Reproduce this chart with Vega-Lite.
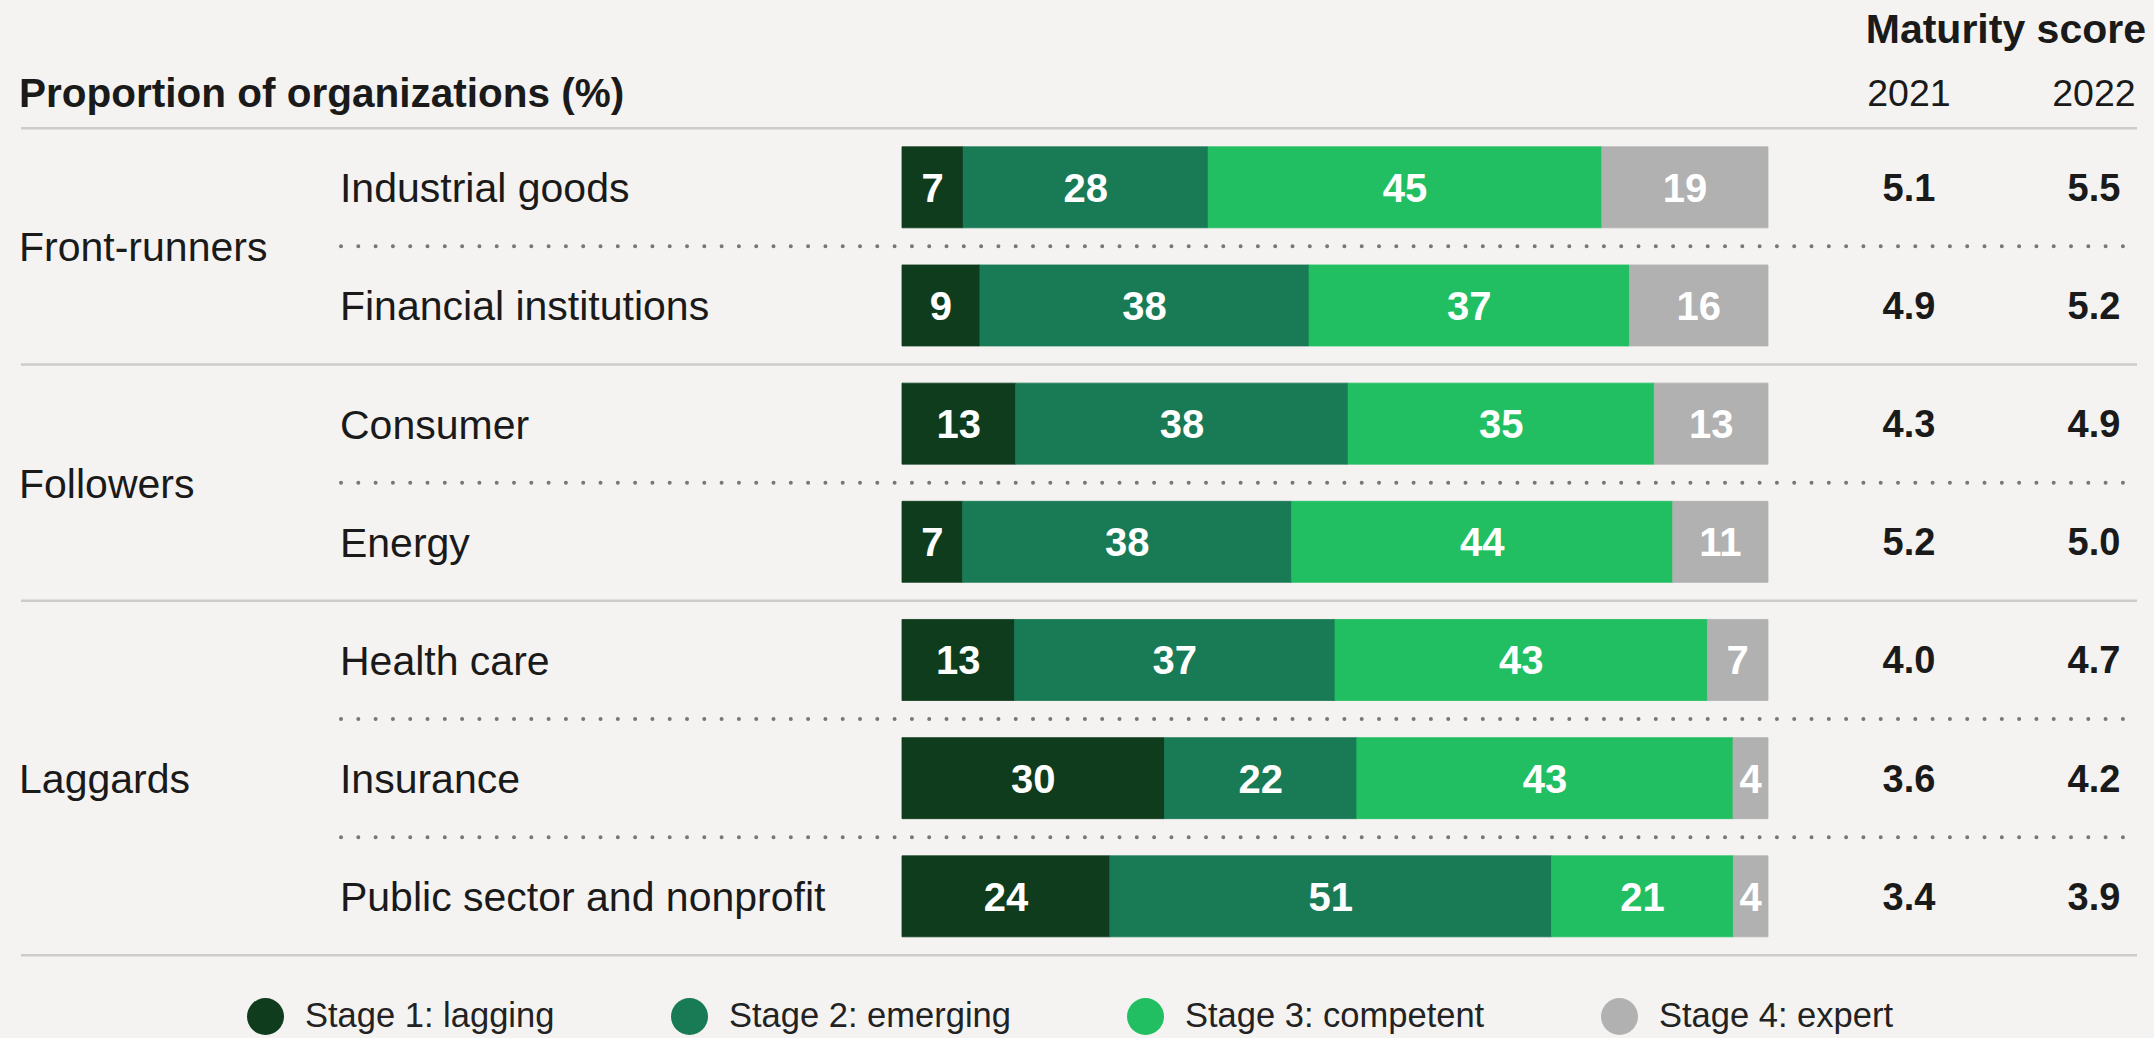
{
  "$schema": "https://vega.github.io/schema/vega-lite/v6.json",
  "width": 2154,
  "height": 1038,
  "autosize": {"type": "none"},
  "padding": 0,
  "background": "#f4f3f1",
  "config": {"view": {"stroke": null}, "font": "Liberation Sans"},
  "datasets": {
    "rows": [
      {"industry": "Industrial goods", "group": "Front-runners", "row": 0, "s2021": 5.1, "s2022": 5.5, "below": "dotted"},
      {"industry": "Financial institutions", "group": "Front-runners", "row": 1, "s2021": 4.9, "s2022": 5.2, "below": "solid"},
      {"industry": "Consumer", "group": "Followers", "row": 2, "s2021": 4.3, "s2022": 4.9, "below": "dotted"},
      {"industry": "Energy", "group": "Followers", "row": 3, "s2021": 5.2, "s2022": 5.0, "below": "solid"},
      {"industry": "Health care", "group": "Laggards", "row": 4, "s2021": 4.0, "s2022": 4.7, "below": "dotted"},
      {"industry": "Insurance", "group": "Laggards", "row": 5, "s2021": 3.6, "s2022": 4.2, "below": "dotted"},
      {"industry": "Public sector and nonprofit", "group": "Laggards", "row": 6, "s2021": 3.4, "s2022": 3.9, "below": "solid"}
    ],
    "bars": [
      {"industry": "Industrial goods", "row": 0, "stage": "Stage 1: lagging", "value": 7},
      {"industry": "Industrial goods", "row": 0, "stage": "Stage 2: emerging", "value": 28},
      {"industry": "Industrial goods", "row": 0, "stage": "Stage 3: competent", "value": 45},
      {"industry": "Industrial goods", "row": 0, "stage": "Stage 4: expert", "value": 19},
      {"industry": "Financial institutions", "row": 1, "stage": "Stage 1: lagging", "value": 9},
      {"industry": "Financial institutions", "row": 1, "stage": "Stage 2: emerging", "value": 38},
      {"industry": "Financial institutions", "row": 1, "stage": "Stage 3: competent", "value": 37},
      {"industry": "Financial institutions", "row": 1, "stage": "Stage 4: expert", "value": 16},
      {"industry": "Consumer", "row": 2, "stage": "Stage 1: lagging", "value": 13},
      {"industry": "Consumer", "row": 2, "stage": "Stage 2: emerging", "value": 38},
      {"industry": "Consumer", "row": 2, "stage": "Stage 3: competent", "value": 35},
      {"industry": "Consumer", "row": 2, "stage": "Stage 4: expert", "value": 13},
      {"industry": "Energy", "row": 3, "stage": "Stage 1: lagging", "value": 7},
      {"industry": "Energy", "row": 3, "stage": "Stage 2: emerging", "value": 38},
      {"industry": "Energy", "row": 3, "stage": "Stage 3: competent", "value": 44},
      {"industry": "Energy", "row": 3, "stage": "Stage 4: expert", "value": 11},
      {"industry": "Health care", "row": 4, "stage": "Stage 1: lagging", "value": 13},
      {"industry": "Health care", "row": 4, "stage": "Stage 2: emerging", "value": 37},
      {"industry": "Health care", "row": 4, "stage": "Stage 3: competent", "value": 43},
      {"industry": "Health care", "row": 4, "stage": "Stage 4: expert", "value": 7},
      {"industry": "Insurance", "row": 5, "stage": "Stage 1: lagging", "value": 30},
      {"industry": "Insurance", "row": 5, "stage": "Stage 2: emerging", "value": 22},
      {"industry": "Insurance", "row": 5, "stage": "Stage 3: competent", "value": 43},
      {"industry": "Insurance", "row": 5, "stage": "Stage 4: expert", "value": 4},
      {"industry": "Public sector and nonprofit", "row": 6, "stage": "Stage 1: lagging", "value": 24},
      {"industry": "Public sector and nonprofit", "row": 6, "stage": "Stage 2: emerging", "value": 51},
      {"industry": "Public sector and nonprofit", "row": 6, "stage": "Stage 3: competent", "value": 21},
      {"industry": "Public sector and nonprofit", "row": 6, "stage": "Stage 4: expert", "value": 4}
    ]
  },
  "layer": [
    {
      "data": {"name": "bars"},
      "mark": {"type": "bar", "orient": "horizontal", "size": 81, "strokeWidth": 0.8},
      "encoding": {
        "x": {"field": "value", "type": "quantitative", "stack": "normalize", "axis": null,
              "scale": {"domain": [-1.04157, 1.44573], "nice": false, "zero": false, "padding": 0}},
        "y": {"field": "row", "type": "quantitative", "axis": null,
              "scale": {"domain": [-1.585, 7.199], "reverse": true, "nice": false, "zero": false, "padding": 0}},
        "order": {"field": "stage", "type": "ordinal", "sort": "ascending"},
        "stroke": {"field": "stage", "type": "nominal", "legend": null,
          "scale": {"domain": ["Stage 1: lagging", "Stage 2: emerging", "Stage 3: competent", "Stage 4: expert"],
                    "range": ["#0e3c1d", "#197a56", "#21bf61", "#b1b1b1"]}},
        "color": {"field": "stage", "type": "nominal",
          "scale": {"domain": ["Stage 1: lagging", "Stage 2: emerging", "Stage 3: competent", "Stage 4: expert"],
                    "range": ["#0e3c1d", "#197a56", "#21bf61", "#b1b1b1"]},
          "legend": {"title": null, "orient": "none", "legendX": 247, "legendY": 998, "direction": "horizontal",
                     "symbolType": "circle", "symbolSize": 1369, "symbolStrokeWidth": 0, "symbolOpacity": 1,
                     "labelFontSize": 34.5, "labelFont": "Liberation Sans", "labelColor": "#222222", "labelLimit": 0,
                     "columnPadding": 116, "labelOffset": 21, "padding": 0, "rowPadding": 0}}
      }
    },
    {
      "data": {"name": "bars"},
      "mark": {"type": "text", "color": "#ffffff", "fontWeight": "bold", "fontSize": 40, "align": "center", "baseline": "alphabetic", "dy": 14.5},
      "encoding": {
        "x": {"field": "value", "type": "quantitative", "stack": "normalize", "bandPosition": 0.5},
        "y": {"field": "row", "type": "quantitative"},
        "detail": {"field": "stage", "type": "nominal"},
        "order": {"field": "stage", "type": "ordinal", "sort": "ascending"},
        "text": {"field": "value", "type": "quantitative"}
      }
    },
    {
      "data": {"name": "rows"},
      "transform": [{"filter": "datum.below === 'solid'"}],
      "mark": {"type": "rule", "color": "#cccccc", "strokeWidth": 2.5, "yOffset": 59},
      "encoding": {
        "y": {"field": "row", "type": "quantitative"},
        "x": {"datum": -1.0173},
        "x2": {"datum": 1.4261}
      }
    },
    {
      "data": {"name": "rows"},
      "transform": [{"filter": "datum.row === 0"}],
      "mark": {"type": "rule", "color": "#cccccc", "strokeWidth": 2.5, "yOffset": -59},
      "encoding": {
        "y": {"field": "row", "type": "quantitative"},
        "x": {"datum": -1.0173},
        "x2": {"datum": 1.4261}
      }
    },
    {
      "data": {"name": "rows"},
      "transform": [{"filter": "datum.below === 'dotted'"}],
      "mark": {"type": "rule", "color": "#777777", "strokeWidth": 4, "strokeCap": "round", "strokeDash": [0, 17.3], "yOffset": 59},
      "encoding": {
        "y": {"field": "row", "type": "quantitative"},
        "x": {"datum": -0.6478},
        "x2": {"datum": 1.4261}
      }
    },
    {
      "data": {"name": "rows"},
      "mark": {"type": "text", "align": "left", "baseline": "alphabetic", "dy": 15, "fontSize": 41, "color": "#1a1a1a"},
      "encoding": {
        "y": {"field": "row", "type": "quantitative"},
        "x": {"datum": -0.649},
        "text": {"field": "industry", "type": "nominal"}
      }
    },
    {
      "data": {"name": "rows"},
      "mark": {"type": "text", "align": "left", "baseline": "alphabetic", "dy": 15, "fontSize": 41, "color": "#1a1a1a"},
      "encoding": {
        "y": {"field": "row", "type": "quantitative", "aggregate": "mean"},
        "x": {"datum": -1.0196},
        "text": {"field": "group", "type": "nominal"}
      }
    },
    {
      "data": {"name": "rows"},
      "mark": {"type": "text", "align": "center", "baseline": "alphabetic", "dy": 13.5, "fontSize": 38, "fontWeight": "bold", "color": "#1a1a1a"},
      "encoding": {
        "y": {"field": "row", "type": "quantitative"},
        "x": {"datum": 1.1628},
        "text": {"field": "s2021", "type": "quantitative", "format": ".1f"}
      }
    },
    {
      "data": {"name": "rows"},
      "mark": {"type": "text", "align": "center", "baseline": "alphabetic", "dy": 13.5, "fontSize": 38, "fontWeight": "bold", "color": "#1a1a1a"},
      "encoding": {
        "y": {"field": "row", "type": "quantitative"},
        "x": {"datum": 1.3764},
        "text": {"field": "s2022", "type": "quantitative", "format": ".1f"}
      }
    },
    {
      "data": {"values": [{"label": "Proportion of organizations (%)"}]},
      "mark": {"type": "text", "align": "left", "baseline": "alphabetic", "dy": -21, "fontSize": 40.5, "fontWeight": "bold", "color": "#1a1a1a"},
      "encoding": {
        "y": {"datum": -0.5},
        "x": {"datum": -1.0196},
        "text": {"field": "label", "type": "nominal"}
      }
    },
    {
      "data": {"values": [{"label": "2021"}]},
      "mark": {"type": "text", "align": "center", "baseline": "alphabetic", "dy": -22, "fontSize": 37.5, "color": "#1a1a1a"},
      "encoding": {
        "y": {"datum": -0.5},
        "x": {"datum": 1.1628},
        "text": {"field": "label", "type": "nominal"}
      }
    },
    {
      "data": {"values": [{"label": "2022"}]},
      "mark": {"type": "text", "align": "center", "baseline": "alphabetic", "dy": -22, "fontSize": 37.5, "color": "#1a1a1a"},
      "encoding": {
        "y": {"datum": -0.5},
        "x": {"datum": 1.3764},
        "text": {"field": "label", "type": "nominal"}
      }
    },
    {
      "data": {"values": [{"label": "Maturity score"}]},
      "mark": {"type": "text", "align": "right", "baseline": "alphabetic", "dy": -85, "fontSize": 41, "fontWeight": "bold", "color": "#1a1a1a"},
      "encoding": {
        "y": {"datum": -0.5},
        "x": {"datum": 1.4365},
        "text": {"field": "label", "type": "nominal"}
      }
    }
  ]
}
